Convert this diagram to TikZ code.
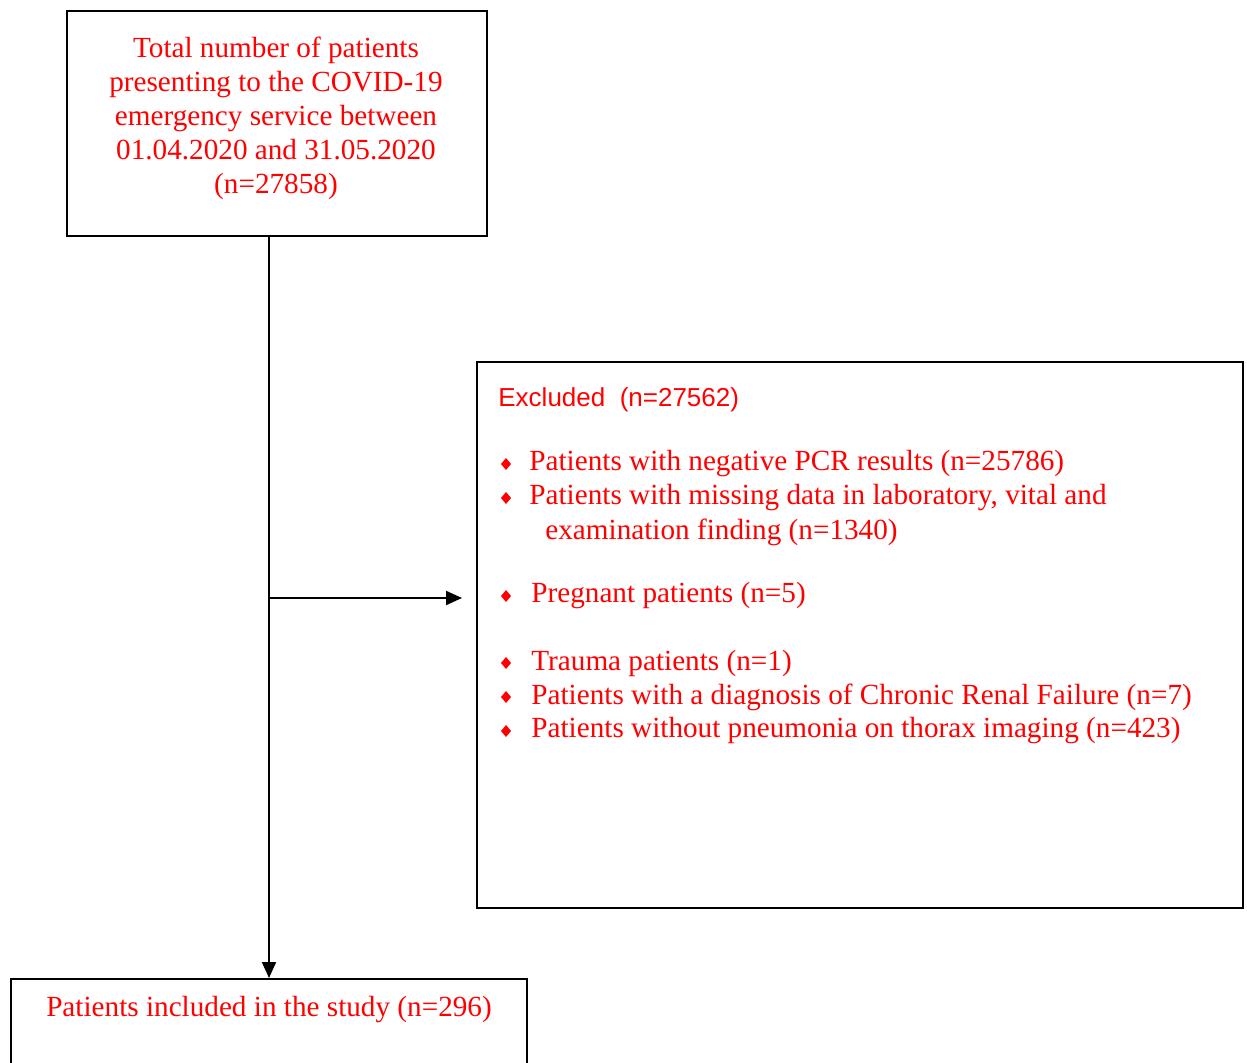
\documentclass[tikz,border=0pt]{standalone}
\usepackage{fontspec}
\setmainfont{Liberation Serif}
\setsansfont{Liberation Sans}
\usetikzlibrary{arrows.meta,positioning,calc}

\tikzset{
  frame/.style={draw,line width=1pt,inner sep=0pt,anchor=north west},
  boxtext/.style={text=red,font=\fontsize{14.6}{17}\selectfont,inner sep=0pt},
  flow/.style={line width=1pt,-{Triangle[length=8pt,width=7pt]}},
  bul/.style={fill=red}
}

\begin{document}
\begin{tikzpicture}[x=0.5pt,y=-0.5pt]
  \useasboundingbox (0,0) rectangle (1247,1063);
  \clip (0,0) rectangle (1247,1063);
  % boxes
  \node[frame,minimum width=210pt,minimum height=112.5pt] (total) at (66,10) {};
  \node[frame,minimum width=383pt,minimum height=273pt] (excluded) at (476,361) {};
  \node[frame,minimum width=258pt,minimum height=60pt] (included) at (10,978) {};
  % texts
  \node[boxtext,align=center] (totaltxt) at (276,118) {Total number of patients\\presenting to the COVID-19\\emergency service between\\01.04.2020 and 31.05.2020\\(n=27858)};
  \node[boxtext,font=\sffamily\fontsize{13}{15}\selectfont,anchor=west] (exctitle) at (498,400) {Excluded~~(n=27562)};
  \foreach \yy/\xx/\txt [count=\i] in {464/529/{Patients with negative PCR results (n=25786)},
      498/529/{Patients with missing data in laboratory, vital and},
      596/531/{Pregnant patients (n=5)},
      663/531/{Trauma patients (n=1)},
      697/531/{Patients with a diagnosis of Chronic Renal Failure (n=7)},
      731/531/{Patients without pneumonia on thorax imaging (n=423)}}{
    \node[boxtext,anchor=west] (exc\i) at (\xx,\yy) {\txt};
    \fill[bul] (506,\yy-6) -- (511,\yy) -- (506,\yy+6) -- (501,\yy) -- cycle;
  }
  \node[boxtext,anchor=west] (exc2b) at (545,532) {examination finding (n=1340)};
  \node[boxtext] (incltxt) at (269,1010) {Patients included in the study (n=296)};
  % connectors
  \coordinate (branch) at (270,598);
  \draw[flow] (total.south -| included.north) -- (included.north);
  \draw[flow,shorten >=7pt] (branch) -- (branch -| excluded.west);
\end{tikzpicture}
\end{document}
